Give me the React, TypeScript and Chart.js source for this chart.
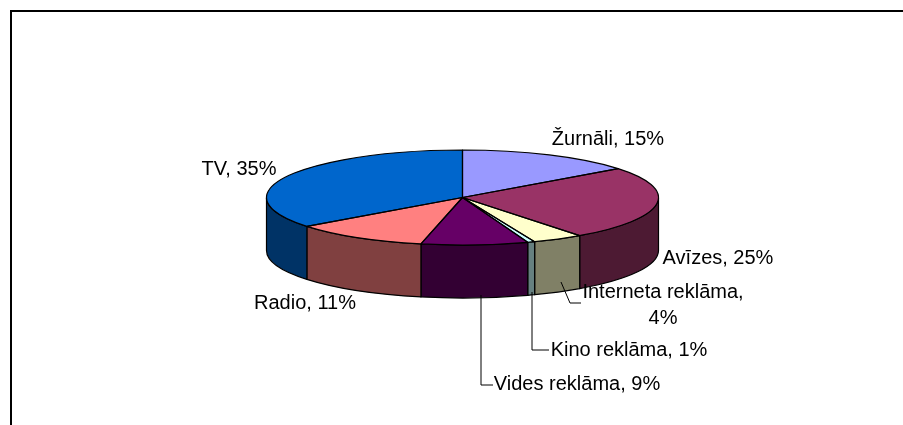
import React, { useEffect, useRef } from 'react';
import { Chart, registerables } from 'chart.js';

Chart.register(...registerables);

const CATEGORIES = ['Žurnāli', 'Avīzes', 'Interneta reklāma', 'Kino reklāma', 'Vides reklāma', 'Radio', 'TV'];
const SHARES = [14.6, 25.2, 4.2, 0.6, 8.8, 11.2, 35.4];

// ---- styles ----
const COLORS = ['#9999FF', '#993366', '#FFFFCC', '#CCFFFF', '#660066', '#FF8080', '#0066CC'];
const SIDE_COLORS = ['#4C4C80', '#4D1A33', '#808066', '#668080', '#330033', '#804040', '#003366'];

// ---- label layout (text centre) and leader lines ----
const LABEL_POS: [number, number][] = [
  [608, 139],
  [718, 258],
  [663, 292],
  [629, 350],
  [577, 384],
  [305, 303.5],
  [239, 169],
];
const LEADERS: ([number, number][] | null)[] = [
  null,
  null,
  [[561, 282], [570, 303], [581, 303]],
  [[532, 292], [532, 350], [549, 350]],
  [[481, 295], [481, 385], [493, 385]],
  null,
  null,
];

const TILT = 47.5 / 196;
const DEPTH = 53;
const FONT = '20px "Liberation Sans", Arial, sans-serif';
const LINE_H = 26;
const MAX_LABEL_W = 180;

const pie3d = {
  id: 'pie3d',
  beforeDraw(chart: any) {
    const ctx = chart.ctx;
    ctx.save();
    ctx.fillStyle = '#000';
    ctx.fillRect(10, 10, 893, 2);
    ctx.fillRect(10, 10, 2, 415);
    ctx.restore();
  },
  beforeDatasetsDraw(chart: any) {
    const ctx = chart.ctx;
    const arcs = chart.getDatasetMeta(0).data;
    const { x: cx, y: cy, outerRadius: r } = arcs[0];
    const ry = r * TILT;
    ctx.save();
    ctx.lineWidth = 1.2;
    ctx.strokeStyle = '#000';
    ctx.lineJoin = 'round';
    arcs.forEach((arc: any, i: number) => {
      const a = Math.max(arc.startAngle, 0);
      const b = Math.min(arc.endAngle, Math.PI);
      if (b <= a) return;
      ctx.beginPath();
      ctx.ellipse(cx, cy, r, ry, 0, a, b);
      ctx.ellipse(cx, cy + DEPTH, r, ry, 0, b, a, true);
      ctx.closePath();
      ctx.fillStyle = SIDE_COLORS[i];
      ctx.fill();
      ctx.stroke();
    });
    ctx.restore();
    // squash the circular pie into the tilted top face
    ctx.save();
    ctx.translate(cx, cy);
    ctx.scale(1, TILT);
    ctx.translate(-cx, -cy);
  },
  afterDatasetsDraw(chart: any) {
    const ctx = chart.ctx;
    ctx.restore();
    const arcs = chart.getDatasetMeta(0).data;
    const { x: cx, y: cy, outerRadius: r } = arcs[0];
    const ry = r * TILT;
    ctx.save();
    ctx.lineWidth = 1.2;
    ctx.strokeStyle = '#000';
    ctx.lineJoin = 'round';
    arcs.forEach((arc: any) => {
      ctx.beginPath();
      ctx.moveTo(cx, cy);
      ctx.ellipse(cx, cy, r, ry, 0, arc.startAngle, arc.endAngle);
      ctx.closePath();
      ctx.stroke();
    });

    // labels
    ctx.font = FONT;
    ctx.fillStyle = '#000';
    ctx.textAlign = 'center';
    ctx.textBaseline = 'middle';
    ctx.lineWidth = 1;
    const labels = chart.data.labels as string[];
    const values = chart.data.datasets[0].data as number[];
    const total = values.reduce((s, v) => s + v, 0);
    labels.forEach((lab, i) => {
      const pct = Math.round((values[i] / total) * 100);
      const full = `${lab}, ${pct}%`;
      const [x, y] = LABEL_POS[i];
      let lines = [full];
      if (ctx.measureText(full).width > MAX_LABEL_W) {
        lines = [`${lab},`, `${pct}%`];
      }
      lines.forEach((t, k) => ctx.fillText(t, x, y + k * LINE_H));
      const ld = LEADERS[i];
      if (ld) {
        ctx.beginPath();
        ctx.moveTo(ld[0][0], ld[0][1]);
        for (let k = 1; k < ld.length; k++) ctx.lineTo(ld[k][0], ld[k][1]);
        ctx.stroke();
      }
    });
    ctx.restore();
  },
};

export default function App() {
  const ref = useRef<HTMLCanvasElement | null>(null);
  useEffect(() => {
    if (!ref.current) return;
    const chart = new Chart(ref.current, {
      type: 'pie',
      data: {
        labels: CATEGORIES,
        datasets: [
          {
            data: SHARES,
            backgroundColor: COLORS,
            borderWidth: 0,
          },
        ],
      },
      options: {
        responsive: false,
        animation: false,
        events: [],
        layout: { padding: { left: 266.5, right: 244.5, top: 1.5, bottom: 31.5 } },
        plugins: {
          legend: { display: false },
          tooltip: { enabled: false },
        },
      },
      plugins: [pie3d as any],
    });
    return () => chart.destroy();
  }, []);
  return (
    <div style={{ position: 'fixed', left: 0, top: 0, width: 903, height: 425, background: '#fff' }}>
      <canvas ref={ref} width={903} height={425} style={{ display: 'block' }} />
    </div>
  );
}
